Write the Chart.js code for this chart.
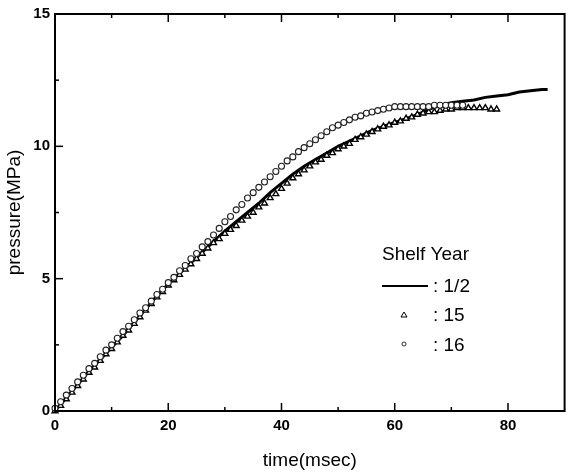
<!DOCTYPE html>
<html>
<head>
<meta charset="utf-8">
<script src="https://cdn.jsdelivr.net/npm/chart.js@4.4.1/dist/chart.umd.min.js"></script>
<style>
  html, body { margin: 0; padding: 0; background: #fff; }
  canvas { display: block; }
</style>
</head>
<body>
<canvas id="pressure-chart" width="570" height="475"></canvas>
<script>
// Shelf year 1/2 : solid line, sampled every 2 msec
const time_half = [0, 2, 4, 6, 8, 10, 12, 14, 16, 18, 20, 22, 24, 26, 28, 30, 32, 34, 36, 38, 40, 42,
  44, 46, 48, 50, 52, 54, 56, 58, 60, 62, 64, 66, 68, 70, 72, 74, 76, 78, 80, 82, 84, 86, 87];
const pressure_half = [0, 0.5, 1.0, 1.5, 1.95, 2.4, 2.85, 3.35, 3.85, 4.35, 4.8, 5.2, 5.6, 6.0, 6.4, 6.8,
  7.15, 7.5, 7.85, 8.25, 8.6, 8.95, 9.25, 9.5, 9.75, 10.0, 10.2, 10.4, 10.6, 10.75, 10.9, 11.05, 11.2,
  11.4, 11.55, 11.65, 11.7, 11.75, 11.85, 11.9, 11.95, 12.05, 12.1, 12.15, 12.15];

// Shelf year 15 : triangles, one every msec from 0
const pressure_15 = [0.0, 0.2, 0.45, 0.7, 0.95, 1.2, 1.45, 1.65, 1.9, 2.15, 2.35, 2.6, 2.85, 3.05, 3.3,
  3.55, 3.8, 4.05, 4.3, 4.5, 4.75, 4.95, 5.15, 5.35, 5.55, 5.75, 5.95, 6.15, 6.35, 6.5, 6.7, 6.85, 7.0,
  7.2, 7.35, 7.5, 7.7, 7.85, 8.05, 8.2, 8.4, 8.6, 8.8, 8.95, 9.1, 9.25, 9.4, 9.5, 9.65, 9.75, 9.9, 10.0,
  10.1, 10.25, 10.35, 10.45, 10.55, 10.65, 10.75, 10.8, 10.9, 10.95, 11.05, 11.1, 11.2, 11.25, 11.3,
  11.3, 11.35, 11.4, 11.4, 11.45, 11.45, 11.45, 11.45, 11.45, 11.45, 11.4, 11.4];

// Shelf year 16 : circles, one every msec from 0
const pressure_16 = [0.1, 0.35, 0.6, 0.85, 1.1, 1.35, 1.6, 1.8, 2.05, 2.3, 2.5, 2.75, 3.0, 3.2, 3.45,
  3.7, 3.9, 4.15, 4.4, 4.6, 4.85, 5.05, 5.3, 5.5, 5.75, 5.95, 6.2, 6.4, 6.65, 6.9, 7.15, 7.35, 7.6, 7.8,
  8.05, 8.25, 8.45, 8.65, 8.85, 9.05, 9.25, 9.45, 9.6, 9.8, 9.95, 10.1, 10.25, 10.4, 10.55, 10.7, 10.8,
  10.9, 11.0, 11.1, 11.15, 11.25, 11.3, 11.35, 11.4, 11.45, 11.5, 11.5, 11.5, 11.5, 11.5, 11.5, 11.5,
  11.55, 11.55, 11.55, 11.55, 11.55, 11.55];

const x_ticks = [0, 20, 40, 60, 80];
const x_minor = [10, 30, 50, 70];
const y_ticks = [0, 5, 10, 15];
const y_minor = [2.5, 7.5, 12.5];
const legend_title = 'Shelf Year';
const legend_labels = [': 1/2', ': 15', ': 16'];

const FONT = "'Liberation Sans', Arial, sans-serif";
Chart.defaults.font.family = FONT;
Chart.defaults.color = '#000';

const toPoints = (xs, ys) => ys.map((v, i) => ({ x: xs[i], y: v }));
const everyMsec = vals => vals.map((v, i) => ({ x: i, y: v }));

// inward ticks and a closed frame, like the original plot
const framePlugin = {
  id: 'frame',
  afterDatasetsDraw(chart) {
    const { ctx, chartArea: a, scales: { x, y } } = chart;
    ctx.save();
    ctx.strokeStyle = '#000';
    ctx.lineWidth = 2;
    ctx.strokeRect(a.left, a.top, a.right - a.left, a.bottom - a.top);
    const seg = (x1, y1, x2, y2) => { ctx.beginPath(); ctx.moveTo(x1, y1); ctx.lineTo(x2, y2); ctx.stroke(); };
    ctx.lineWidth = 1.5;
    x_ticks.forEach(v => { const p = x.getPixelForValue(v); seg(p, a.bottom, p, a.bottom - 8); seg(p, a.top, p, a.top + 8); });
    x_minor.forEach(v => { const p = x.getPixelForValue(v); seg(p, a.bottom, p, a.bottom - 4); seg(p, a.top, p, a.top + 4); });
    y_ticks.forEach(v => { const p = y.getPixelForValue(v); seg(a.left, p, a.left + 8, p); });
    y_minor.forEach(v => { const p = y.getPixelForValue(v); seg(a.left, p, a.left + 4, p); });
    ctx.restore();
  }
};

// legend sits inside the plot, lower right
const legendPlugin = {
  id: 'insideLegend',
  afterDraw(chart) {
    const { ctx, chartArea: a } = chart;
    const lx = a.left + 327;
    const ty = a.top + 241;
    ctx.save();
    ctx.fillStyle = '#000';
    ctx.strokeStyle = '#000';
    ctx.font = `19px ${FONT}`;
    ctx.textBaseline = 'middle';
    ctx.textAlign = 'left';
    ctx.fillText(legend_title, lx, ty);
    const rows = [ty + 32, ty + 61, ty + 91];
    // line sample
    ctx.lineWidth = 2;
    ctx.beginPath(); ctx.moveTo(lx, rows[0] - 1); ctx.lineTo(lx + 46, rows[0] - 1); ctx.stroke();
    // triangle sample
    ctx.lineWidth = 1;
    ctx.beginPath();
    ctx.moveTo(lx + 22, rows[1] - 4); ctx.lineTo(lx + 25, rows[1] + 1); ctx.lineTo(lx + 19, rows[1] + 1);
    ctx.closePath(); ctx.stroke();
    // circle sample
    ctx.lineWidth = 0.8;
    ctx.beginPath(); ctx.arc(lx + 22, rows[2] - 2, 2, 0, Math.PI * 2); ctx.stroke();
    legend_labels.forEach((t, i) => ctx.fillText(t, lx + 51, rows[i]));
    ctx.restore();
  }
};

const ctx = document.getElementById('pressure-chart');

const chart = new Chart(ctx, {
  type: 'scatter',
  data: {
    datasets: [{
      label: '16',
      data: everyMsec(pressure_16),
      pointStyle: 'circle',
      pointRadius: 3,
      borderWidth: 1.1,
      borderColor: '#222',
      backgroundColor: '#fff',
      clip: 6
    }, {
      label: '15',
      data: everyMsec(pressure_15),
      pointStyle: 'triangle',
      pointRadius: 3.4,
      borderWidth: 1.4,
      borderColor: '#000',
      backgroundColor: '#fff',
      clip: 6
    }, {
      label: '1/2',
      data: toPoints(time_half, pressure_half),
      showLine: true,
      pointRadius: 0,
      borderWidth: 3,
      borderColor: '#000',
      tension: 0,
      clip: 6
    }]
  },
  options: {
    responsive: false,
    animation: false,
    layout: { padding: { top: 9, right: 0, left: 0, bottom: 0 } },
    plugins: {
      legend: { display: false },
      tooltip: { enabled: false }
    },
    scales: {
      x: {
        type: 'linear',
        min: 0,
        max: 90,
        afterBuildTicks: s => { s.ticks = x_ticks.map(v => ({ value: v })); },
        afterFit: s => { s.height = 64; },
        grid: { display: false, drawTicks: false },
        border: { display: false },
        ticks: { padding: 6, maxRotation: 0, font: { size: 15, weight: 'bold' } },
        title: { display: true, text: 'time(msec)', padding: { top: 0, bottom: 3 }, font: { size: 19 } }
      },
      y: {
        type: 'linear',
        min: 0,
        max: 15,
        afterBuildTicks: s => { s.ticks = y_ticks.map(v => ({ value: v })); },
        afterFit: s => { s.width = 55; },
        grid: { display: false, drawTicks: false },
        border: { display: false },
        ticks: { padding: 5, font: { size: 15, weight: 'bold' } },
        title: { display: true, text: 'pressure(MPa)', padding: { top: 3, bottom: 0 }, font: { size: 19 } }
      }
    }
  },
  plugins: [framePlugin, legendPlugin]
});
</script>
</body>
</html>
